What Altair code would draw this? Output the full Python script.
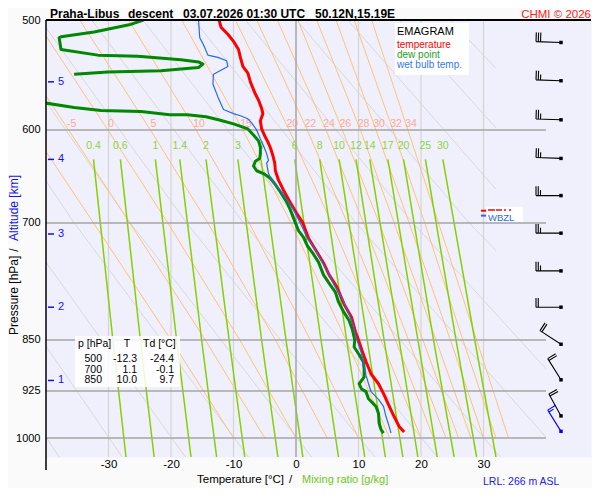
import altair as alt
import pandas as pd

FONT = "Liberation Sans"
PLOT_BG = "#F0F0FC"
PAGE_BG = "#FAFAFA"
W, H = 545, 437

# sounding: temperature / dew point / wet bulb, T in degC, p in hPa
TEMP_P = [500, 506, 512, 518, 525, 532, 540, 546, 554, 564, 571, 579, 584, 591, 599,
          606, 612, 618, 626, 634, 642, 652, 663, 677, 689, 700, 718, 734, 748, 763,
          778, 801, 819, 838, 850, 866, 881, 899, 914, 931, 946, 965, 981, 990]
TEMP_T = [-12.3, -12.0, -10.9, -10.0, -9.2, -8.9, -8.5, -7.7, -7.3, -6.6, -6.0, -5.5, -5.3, -5.7, -5.5,
          -5.0, -4.5, -4.1, -3.7, -3.4, -3.3, -2.8, -2.0, -0.9, 0.1, 1.1, 2.0, 3.3, 4.4, 5.3,
          6.5, 7.7, 8.9, 9.5, 10.0, 10.6, 11.2, 12.0, 13.2, 14.1, 14.8, 15.7, 16.5, 17.3]

DEW_UPPER_P = [500, 504, 510, 514, 515, 525, 530, 531, 534, 536, 538, 541, 544, 545, 547]
DEW_UPPER_T = [-24.4, -26.7, -32.3, -37.6, -37.9, -37.6, -31.7, -25.3, -18.4, -15.6, -14.9, -15.6,
               -21.6, -30.1, -35.5]
DEW_LOWER_P = [573, 578, 581, 582, 585, 585, 587, 590, 594, 599, 605, 611, 617, 624, 629,
               632, 637, 642, 645, 650, 657, 665, 676, 685, 700, 709, 717, 727, 735, 747,
               763, 776, 785, 798, 811, 823, 835, 850, 860, 871, 882, 892, 904, 914, 922,
               926, 937, 945, 949, 960, 976, 986, 992]
DEW_LOWER_T = [-41.0, -35.5, -31.2, -24.8, -20.2, -17.4, -14.4, -12.4, -10.0, -7.7, -6.8, -6.0, -5.7, -5.7, -5.8,
               -6.5, -6.8, -6.3, -5.2, -4.1, -3.3, -2.5, -1.5, -0.9, -0.1, 0.4, 1.2, 1.8, 2.6, 3.6,
               4.4, 5.5, 6.3, 6.8, 7.6, 8.5, 9.0, 9.4, 9.3, 10.1, 10.8, 10.9, 10.9, 10.1, 10.5,
               11.2, 11.6, 12.4, 12.8, 13.2, 13.3, 13.6, 14.0]

WET_P = [500, 515, 521, 530, 532, 535, 540, 547, 556, 568, 580, 584, 586, 589, 593,
         600, 609, 616, 624, 631, 634, 645, 655, 663, 674, 685, 696, 708, 718, 730,
         746, 761, 776, 792, 812, 830, 846, 867, 886, 901, 914, 926, 931, 938, 949,
         965, 981, 992]
WET_T = [-15.6, -15.4, -14.8, -14.1, -12.5, -11.1, -10.9, -13.2, -13.3, -12.5, -11.6, -10.0, -8.9, -7.7, -7.1,
         -6.3, -5.7, -5.2, -4.7, -4.4, -4.7, -4.4, -3.6, -2.5, -1.4, -0.4, 0.4, 1.2, 1.8, 3.0,
         4.1, 5.2, 6.1, 7.3, 8.4, 9.2, 9.6, 10.4, 10.9, 11.2, 11.6, 12.0, 12.5, 13.2, 14.0,
         14.4, 14.9, 15.2]

# summary table
TABLE_P = [500, 700, 850]
TABLE_T = [-12.3, 1.1, 10.0]
TABLE_TD = [-24.4, -0.1, 9.7]

# wind every 0.5 km, the last one is the ground report
BARB_P = [519, 553, 590, 629, 669, 712, 758, 805, 856, 908, 964, 989]
BARB_DIR = [272, 272, 272, 272, 270, 270, 270, 270, 303, 328, 331, 328]
BARB_KT = [30, 25, 25, 25, 25, 25, 25, 20, 20, 20, 20, 15]

ALT_KM = [1, 2, 3, 4, 5]
ALT_P = [909, 805, 713, 630, 554]

T_TICKS = [-30, -20, -10, 0, 10, 20, 30]
P_TICKS = [500, 600, 700, 850, 925, 1000]
P_GRID = [600, 700, 850, 925, 1000]

# dry adiabats (theta, degC)
DRY_THETA = [-40, -30, -20, -10, 0, 10, 20, 30, 40, 50, 60, 70, 80, 90]
DRY_LINE_T = [[-81.9, -62.6, -37.9], [-73.7, -53.6, -27.8], [-65.5, -44.5, -17.7],
              [-57.3, -35.5, -7.6], [-49.1, -26.5, 2.5], [-40.9, -17.5, 12.6],
              [-32.7, -8.4, 22.6], [-24.5, 0.6, 32.7], [-16.3, 9.6, 42.8],
              [-8.1, 18.7, 52.9], [0.1, 27.7, 32.0], [8.3, 32.0], [16.5, 32.0], [24.7, 32.0]]
DRY_LINE_P = [[500, 700, 1032]] * 10 + [[500, 700, 733], [500, 662], [500, 598], [500, 542]]

# saturated adiabats (wet bulb potential temperature, degC)
MOIST_THETA_W = [-10, -5, 0, 5, 10, 15, 20, 22, 24, 26, 28, 30, 32, 34]
MOIST_LEVELS = [500, 600, 700, 850, 1000]
MOIST_T500 = [-53.7, -48.0, -41.7, -34.6, -26.8, -18.3, -9.7, -6.3, -3.0, 0.3, 3.3, 6.4, 9.3, 12.1]
MOIST_T600 = [-42.3, -36.4, -30.1, -23.3, -16.0, -8.5, -1.1, 1.8, 4.8, 7.4, 10.3, 12.8, 15.5, 17.9]
MOIST_T700 = [-32.4, -26.6, -20.5, -14.1, -7.5, -0.8, 5.7, 8.2, 10.8, 13.3, 15.7, 18.1, 20.6, 22.8]
MOIST_T850 = [-20.0, -14.5, -9.0, -3.3, 2.3, 8.0, 13.6, 15.9, 18.0, 20.3, 22.4, 24.7, 26.7, 28.9]
MOIST_T1000 = [-10, -5, 0, 5, 10, 15, 20, 22, 24, 26, 28, 30, 32, 34]

# saturation mixing ratio lines (g/kg)
MIX_W = [0.4, 0.6, 1, 1.4, 2, 3, 4, 6, 8, 10, 12, 14, 17, 20, 25, 30]
MIX_LEVELS = [630, 850, 1032]
MIX_T630 = [-32.4, -28.1, -22.5, -18.6, -14.4, -9.3, -5.6, -0.2, 3.8, 6.9, 9.6, 11.8, 14.7, 17.2, 20.7, 23.5]
MIX_T850 = [-29.3, -24.9, -19.1, -15.1, -10.7, -5.5, -1.6, 4.0, 8.1, 11.4, 14.1, 16.5, 19.5, 22.0, 25.6, 28.6]
MIX_T1032 = [-27.2, -22.7, -16.8, -12.7, -8.2, -2.9, 1.1, 6.8, 11.0, 14.3, 17.1, 19.5, 22.6, 25.3, 28.9, 32.0]

X_DOMAIN = [-40, 47.2]
P_DOMAIN = [500, 1032]
STATION_T = 42.4

x_enc = alt.X("T:Q", scale=alt.Scale(domain=X_DOMAIN, nice=False, zero=False),
              axis=alt.Axis(values=T_TICKS, labelExpr="'' + datum.value", ticks=False, tickSize=0,
                            domain=False, grid=False, title=None, labelFontSize=11.5,
                            labelPadding=1, labelColor="black"))
y_enc = alt.Y("p:Q", scale=alt.Scale(type="log", domain=P_DOMAIN, reverse=True, nice=False),
              axis=alt.Axis(values=P_TICKS, labelExpr="'' + datum.value", ticks=False, tickSize=0,
                            domain=False, grid=False, title=None, labelFontSize=11,
                            labelPadding=6, labelColor="black"))


def frame(ids, t_rows, p_rows):
    rows = [{"id": str(k), "i": i, "T": t, "p": p}
            for k, ts, ps in zip(ids, t_rows, p_rows)
            for i, (t, p) in enumerate(zip(ts, ps))]
    return pd.DataFrame(rows)


def lines(df, color, width):
    return alt.Chart(df).mark_line(color=color, strokeWidth=width, clip=True, strokeJoin="round").encode(
        x=x_enc, y=y_enc, detail="id:N", order="i:Q")


def ptext(s, x, y, size=11, color="black", align="left", weight="normal", angle=0, baseline="alphabetic"):
    return alt.Chart(pd.DataFrame({"s": [s]})).mark_text(
        align=align, baseline=baseline, fontSize=size, color=color, fontWeight=weight, angle=angle
    ).encode(x=alt.value(x), y=alt.value(y), text="s:N")


def pbox(x, y, x2, y2, color="white", opacity=1.0):
    return alt.Chart(pd.DataFrame({"a": [0]})).mark_rect(color=color, opacity=opacity).encode(
        x=alt.value(x), x2=alt.value(x2), y=alt.value(y), y2=alt.value(y2))


def phline(x, x2, y, color, width):
    return alt.Chart(pd.DataFrame({"a": [0]})).mark_rule(color=color, strokeWidth=width).encode(
        x=alt.value(x), x2=alt.value(x2), y=alt.value(y))


def pvline(x, y, y2, color, width):
    return alt.Chart(pd.DataFrame({"a": [0]})).mark_rule(color=color, strokeWidth=width).encode(
        x=alt.value(x), y=alt.value(y), y2=alt.value(y2))


def barb_path(kt):
    full, rest = divmod(kt, 10)
    d = "M0,0L-1,0"
    x = -1.0
    for _ in range(full):
        d += f"M{x:.2f},0L{x:.2f},-0.37"
        x += 0.09
    if rest >= 5:
        d += f"M{x:.2f},0L{x:.2f},-0.22"
    return d


# background diagram
vgrid = alt.Chart(pd.DataFrame({"T": [t for t in T_TICKS if t != 0], "p": 500, "p2": 1032})).mark_rule(
    color="#D4D4D4", strokeWidth=1.2).encode(x=x_enc, y=y_enc, y2="p2:Q")
dry = lines(frame(DRY_THETA, DRY_LINE_T, DRY_LINE_P), "#D8D8D8", 1)
moist_rows = [list(r) for r in zip(MOIST_T500, MOIST_T600, MOIST_T700, MOIST_T850, MOIST_T1000)]
moist = lines(frame(MOIST_THETA_W, moist_rows, [MOIST_LEVELS] * len(MOIST_THETA_W)), "#FFC27A", 1)
mix_rows = [list(r) for r in zip(MIX_T630, MIX_T850, MIX_T1032)]
mix = lines(frame(MIX_W, mix_rows, [MIX_LEVELS] * len(MIX_W)), "#86D000", 1.5)
cover = alt.Chart(pd.DataFrame({"T": [40], "T2": [X_DOMAIN[1]], "p": [500], "p2": [1032]})).mark_rect(
    color=PLOT_BG).encode(x=x_enc, x2="T2:Q", y=y_enc, y2="p2:Q")
hgrid = alt.Chart(pd.DataFrame({"p": P_GRID, "T": -40, "T2": 40})).mark_rule(
    color="#A6A6A6", strokeWidth=1.5).encode(x=x_enc, x2="T2:Q", y=y_enc)
zero = alt.Chart(pd.DataFrame({"T": [0], "p": [500], "p2": [1032]})).mark_rule(
    color="#A6A6A6", strokeWidth=1.5).encode(x=x_enc, y=y_enc, y2="p2:Q")

# only the saturated adiabats that cross 600 hPa inside the diagram carry a label
moist_lab_df = pd.DataFrame({"T": [t + 0.5 for t in MOIST_T600], "p": 594,
                             "s": [str(v) for v in MOIST_THETA_W]})
moist_lab_df = moist_lab_df[moist_lab_df["T"] > -39]
moist_lab = alt.Chart(moist_lab_df).mark_text(color="#FFA893", fontSize=10.5).encode(
    x=x_enc, y=y_enc, text="s:N")
mix_lab = alt.Chart(pd.DataFrame({"T": MIX_T630, "p": 616, "s": [f"{w:g}" for w in MIX_W]})).mark_text(
    color="#8CD43A", fontSize=10.5).encode(x=x_enc, y=y_enc, text="s:N")

# sounding
dew = lines(frame(["upper", "lower"], [DEW_UPPER_T, DEW_LOWER_T], [DEW_UPPER_P, DEW_LOWER_P]), "#008800", 3)
temp = lines(frame(["t"], [TEMP_T], [TEMP_P]), "#FF0000", 3)
wet = lines(frame(["w"], [WET_T], [WET_P]), "#2868EE", 1.2)

barb_df = pd.DataFrame({
    "T": STATION_T, "p": BARB_P,
    "path": [barb_path(k) for k in BARB_KT],
    "angle": [d - 270 for d in BARB_DIR],
    "col": ["black"] * (len(BARB_P) - 1) + ["#0000FF"],
})
barbs = alt.Chart(barb_df).mark_point(filled=False, opacity=1, strokeWidth=1.1, size=2500).encode(
    x=x_enc, y=y_enc, shape=alt.Shape("path:N", scale=None),
    angle=alt.Angle("angle:Q", scale=None), color=alt.Color("col:N", scale=None))
dots = alt.Chart(barb_df).mark_square(size=12, opacity=1, filled=True).encode(
    x=x_enc, y=y_enc, color=alt.Color("col:N", scale=None))

alt_df = pd.DataFrame({"p": ALT_P, "s": [str(k) for k in ALT_KM]})
alt_ticks = alt.Chart(alt_df).mark_rule(color="#1010F0", strokeWidth=1.5).encode(
    x=alt.value(2), x2=alt.value(8), y=y_enc)
alt_text = alt.Chart(alt_df).mark_text(color="#1010F0", fontSize=11, align="left", baseline="middle").encode(
    x=alt.value(12), y=y_enc, text="s:N")

# annotation boxes
legend = [
    pbox(349, 3, 423, 55, opacity=0.95),
    ptext("EMAGRAM", 351, 15, size=11),
    ptext("temperature", 351, 28, size=10, color="#FF0000"),
    ptext("dew point", 351, 38, size=10, color="#22A022"),
    ptext("wet bulb temp.", 351, 48, size=10, color="#3377F0"),
]
table = [pbox(29, 316, 134, 367, opacity=0.85),
         ptext("p [hPa]", 32, 326.5, size=10.5), ptext("T", 81, 326.5, size=10.5, align="center"),
         ptext("Td [°C]", 97, 326.5, size=10.5)]
for k, (pp, tt, td) in enumerate(zip(TABLE_P, TABLE_T, TABLE_TD)):
    yy = 342 + 10.5 * k
    table += [ptext(str(pp), 56, yy, size=10.5, align="right"),
              ptext(f"{tt:.1f}", 91, yy, size=10.5, align="right"),
              ptext(f"{td:.1f}", 128, yy, size=10.5, align="right")]
levels = [
    phline(435, 440, 190.7, "#FF0000", 2),
    phline(435, 440, 195.6, "#2868EE", 2),
    pbox(441, 187, 477, 202),
    # freezing-level label almost hidden under the wet-bulb-zero box
    phline(442, 449, 190, "#FF0000", 1.5),
    phline(450, 456, 190, "#FF0000", 1.5),
    phline(458, 460, 190, "#FF0000", 1.5),
    phline(463, 465, 190, "#FF0000", 1.5),
    ptext("WBZL", 442, 200.5, size=9.5, color="#2868EE"),
]

frame_lines = [phline(0, W, 0, "black", 2), pvline(0, 0, 450, "black", 1.5)]

titles = [
    ptext("Praha-Libus", 4, -2, size=12, weight="bold"),
    ptext("descent", 82, -2, size=12, weight="bold"),
    ptext("03.07.2026 01:30 UTC", 137, -2, size=12, weight="bold"),
    ptext("50.12N,15.19E", 269, -2, size=12, weight="bold"),
    ptext("CHMI © 2026", W, -2, size=11.5, color="#FF2020", align="right"),
    ptext("Pressure [hPa]", -28.5, 315, size=12, angle=270),
    ptext("/", -28.5, 230, size=12, angle=270, align="center"),
    ptext("Altitude [km]", -28.5, 221, size=12, angle=270, color="#1010F0"),
    ptext("Temperature [°C]", 151, 463, size=11.5),
    ptext("/", 243, 463, size=11.5),
    ptext("Mixing ratio [g/kg]", 256, 463, size=11, color="#6CC91A"),
    ptext("LRL: 266 m ASL", 437, 465, size=10.5, color="#2222EE"),
]

chart = alt.layer(
    vgrid, dry, moist, mix, cover, hgrid, zero, moist_lab, mix_lab,
    *legend, *table, *levels,
    dew, temp, wet, barbs, dots, alt_ticks, alt_text,
    *frame_lines, *titles,
).properties(
    width=W, height=H,
    autosize=alt.AutoSizeParams(type="none"),
    padding={"left": 38, "top": 12, "right": 1, "bottom": 31},
).configure(
    font=FONT, background=PAGE_BG,
).configure_view(
    fill=PLOT_BG, stroke="transparent",
)

chart.save("out.html", embed_options={"renderer": "svg", "actions": False})
